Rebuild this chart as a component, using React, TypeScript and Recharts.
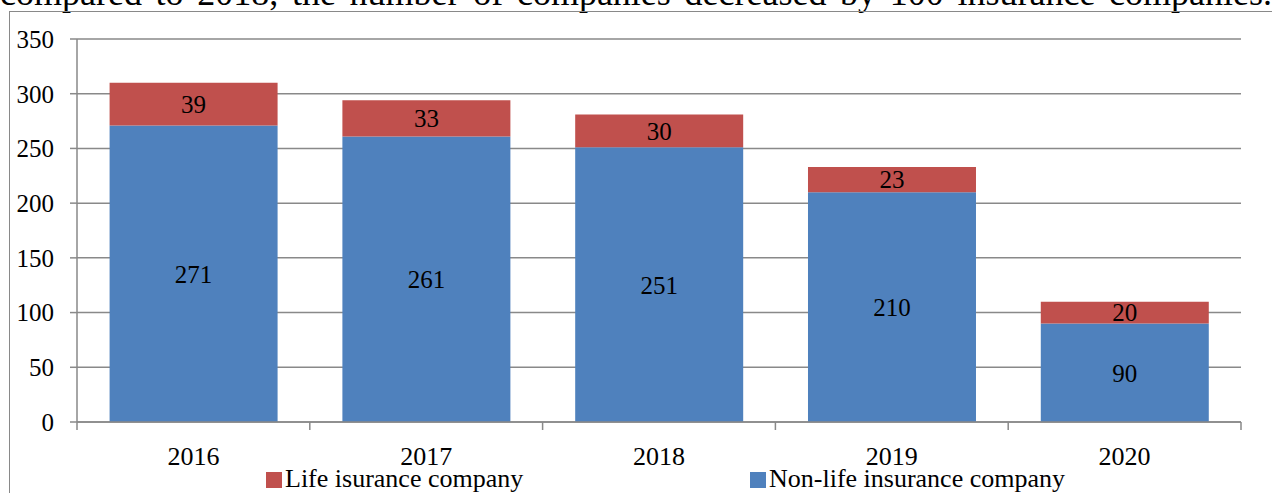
import { BarChart, Bar, XAxis, YAxis, CartesianGrid, Legend, LabelList } from "recharts";

const years = ["2016", "2017", "2018", "2019", "2020"];
const nonLife = [271, 261, 251, 210, 90];
const life = [39, 33, 30, 23, 20];
const yTicks = [0, 50, 100, 150, 200, 250, 300, 350];

const BLUE = "#4F81BD";
const RED = "#C0504D";
const GREY = "#898989";
const FONT = '"Liberation Serif", "Times New Roman", serif';

const data = years.map((y, i) => ({ year: y, nonLife: nonLife[i], life: life[i] }));

// year label at band centre, tick marks at the band edges (Excel style)
function YearTick(props: any) {
  const { x, y, payload, index, visibleTicksCount } = props;
  const off = payload.offset ?? 0;
  const last = index === visibleTicksCount - 1;
  return (
    <g>
      <line x1={x - off} x2={x - off} y1={y} y2={y + 8} stroke={GREY} strokeWidth={1.5} />
      {last && <line x1={x + off} x2={x + off} y1={y} y2={y + 8} stroke={GREY} strokeWidth={1.5} />}
      <text x={x} y={y + 43} textAnchor="middle" fontSize={26} fill="#000">
        {payload.value}
      </text>
    </g>
  );
}

function LegendBox() {
  const item = (left: number, color: string, label: string) => (
    <div style={{ position: "absolute", left, top: 0, height: 28, lineHeight: "28px", fontSize: 26, whiteSpace: "nowrap" }}>
      <span style={{ display: "inline-block", width: 16, height: 16, background: color, marginRight: 3, verticalAlign: "-1px" }} />
      {label}
    </div>
  );
  return (
    <div style={{ position: "relative", width: 1272, height: 28, fontFamily: FONT, color: "#000" }}>
      {item(266, RED, "Life isurance company")}
      {item(750, BLUE, "Non-life insurance company")}
    </div>
  );
}

export default function App() {
  return (
    <div style={{ position: "fixed", left: 0, top: 0, width: 1272, height: 493, overflow: "hidden", background: "#fff", fontFamily: FONT }}>
      <div
        style={{
          position: "absolute", left: 0, top: -25, width: 1272, fontSize: 36, lineHeight: "36px",
          textAlign: "justify", textAlignLast: "justify", color: "#000",
        }}
      >
        compared to 2018, the number of companies decreased by 100 insurance companies.
      </div>
      <div style={{ position: "absolute", left: 9, top: 11, width: 1400, height: 600, borderLeft: `1.5px solid ${GREY}`, borderTop: `1.5px solid ${GREY}` }} />
      <div style={{ position: "absolute", left: 0, top: 0 }}>
        <BarChart width={1272} height={493} data={data} margin={{ top: 39, right: 31, left: 0, bottom: 0 }} barCategoryGap="14%">
          <CartesianGrid horizontal vertical={false} stroke={GREY} strokeWidth={1.5} />
          <XAxis
            dataKey="year"
            interval={0}
            height={43}
            tickSize={0}
            tickMargin={0}
            tickLine={false}
            axisLine={{ stroke: GREY, strokeWidth: 1.5 }}
            tick={<YearTick />}
          />
          <YAxis
            width={77}
            domain={[0, 350]}
            ticks={yTicks}
            interval={0}
            tickSize={7}
            tickMargin={16}
            axisLine={{ stroke: GREY, strokeWidth: 1.5 }}
            tickLine={{ stroke: GREY, strokeWidth: 1.5 }}
            tick={{ fontSize: 25, fill: "#000" }}
          />
          <Legend verticalAlign="bottom" height={28} content={() => <LegendBox />} />
          <Bar dataKey="nonLife" stackId="a" fill={BLUE} isAnimationActive={false}>
            <LabelList dataKey="nonLife" position="center" fill="#000" fontSize={25} />
          </Bar>
          <Bar dataKey="life" stackId="a" fill={RED} isAnimationActive={false}>
            <LabelList dataKey="life" position="center" fill="#000" fontSize={25} />
          </Bar>
        </BarChart>
      </div>
    </div>
  );
}
